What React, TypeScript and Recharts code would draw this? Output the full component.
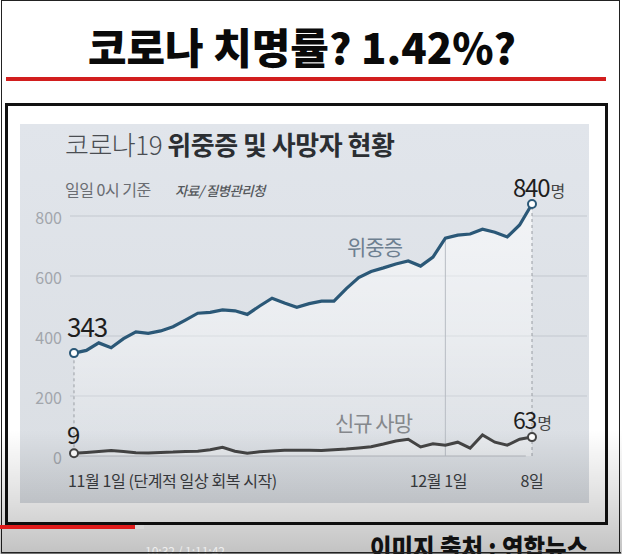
import React from 'react'
import { ComposedChart, Line, Area, XAxis, YAxis, CartesianGrid, ReferenceLine } from 'recharts'

// 11/1 ~ 12/8 daily values
const dates = [
  '11/1', '11/2', '11/3', '11/4', '11/5', '11/6', '11/7', '11/8', '11/9', '11/10',
  '11/11', '11/12', '11/13', '11/14', '11/15', '11/16', '11/17', '11/18', '11/19', '11/20',
  '11/21', '11/22', '11/23', '11/24', '11/25', '11/26', '11/27', '11/28', '11/29', '11/30',
  '12/1', '12/2', '12/3', '12/4', '12/5', '12/6', '12/7', '12/8',
]
const critical = [
  343, 352, 377, 361, 391, 414, 409, 417, 431, 453,
  476, 479, 487, 484, 472, 500, 526, 510, 496, 508,
  516, 516, 558, 595, 615, 627, 640, 650, 633, 663,
  726, 736, 740, 756, 746, 730, 770, 840,
]
const deaths = [
  9, 12, 15, 18, 15, 11, 10, 12, 13, 15,
  16, 21, 29, 16, 9, 14, 17, 19, 19, 19,
  18, 21, 23, 27, 31, 40, 50, 56, 30, 41,
  36, 46, 26, 70, 46, 36, 56, 63,
]
const xTicks = [0, 30, 37]
const xTickLabels = ['11월 1일 (단계적 일상 회복 시작)', '12월 1일', '8일']
const yTicks = [0, 200, 400, 600, 800]

const FONT = '"Noto Sans CJK KR", "Noto Sans", sans-serif'
const BLUE = '#2b5877'
const GRAY = '#454545'

const rows = dates.map((d, i) => ({ day: i, date: d, critical: critical[i], deaths: deaths[i] }))
const last = rows.length - 1

const XTick = (props: any) => {
  const { x, y, payload } = props
  const i = xTicks.indexOf(payload.value)
  const anchor = i === 0 ? 'start' : 'middle'
  const dx = i === 0 ? -6 : i === 1 ? -7 : 0
  return (
    <text x={x + dx} y={y + 29} textAnchor={anchor} fill="#3a3d41" fontSize={16} fontFamily={FONT} letterSpacing={-0.4}>
      {xTickLabels[i]}
    </text>
  )
}

const criticalDot = (props: any) => {
  const { cx, cy, index } = props
  if (index !== 0 && index !== last) return <g key={`c${index}`} />
  return (
    <g key={`c${index}`}>
      <circle cx={cx} cy={cy} r={4} fill="#fff" stroke={BLUE} strokeWidth={2} />
      {index === 0 ? (
        <text x={cx - 7} y={cy - 16} fontSize={26} fill="#1e1e1e" fontFamily={FONT} letterSpacing={-1}>
          {critical[0]}
        </text>
      ) : (
        <text x={cx - 19} y={cy - 7} fontSize={24} fill="#1e1e1e" fontFamily={FONT} letterSpacing={-1.2}>
          {critical[last]}
          <tspan fontSize={16} fill="#444" dx={1}>명</tspan>
        </text>
      )}
    </g>
  )
}

const deathDot = (props: any) => {
  const { cx, cy, index } = props
  if (index !== 0 && index !== last) return <g key={`d${index}`} />
  return (
    <g key={`d${index}`}>
      <circle cx={cx} cy={cy} r={4} fill="#fff" stroke={GRAY} strokeWidth={2} />
      {index === 0 ? (
        <text x={cx - 7} y={cy - 9} fontSize={24} fill="#1e1e1e" fontFamily={FONT}>
          {deaths[0]}
        </text>
      ) : (
        <text x={cx - 19} y={cy - 8} fontSize={23} fill="#1e1e1e" fontFamily={FONT} letterSpacing={-1.2}>
          {deaths[last]}
          <tspan fontSize={16} fill="#444" dx={1}>명</tspan>
        </text>
      )}
    </g>
  )
}

export default function App() {
  return (
    <div style={{ position: 'absolute', left: 0, top: 0, width: 622, height: 554, background: '#fff', overflow: 'hidden', fontFamily: FONT }}>
      {/* outer frame */}
      <div style={{ position: 'absolute', left: 1, top: 0, width: 619, height: 553, border: '1.5px solid #222', boxSizing: 'border-box' }} />
      {/* boxed chart frame */}
      <div style={{ position: 'absolute', left: 5, top: 103, width: 603, height: 422, border: '3px solid #111', boxSizing: 'border-box' }} />
      {/* chart panel */}
      <div style={{ position: 'absolute', left: 20, top: 124, width: 569, height: 379, background: 'linear-gradient(#e1e5eb, #dadee3)' }} />

      <div style={{ position: 'absolute', left: 0, top: 0 }}>
        <ComposedChart width={622} height={554} data={rows} margin={{ top: 186, right: 35, bottom: 68, left: 0 }}>
          <defs>
            <linearGradient id="critFill" x1="0" y1="0" x2="0" y2="1">
              <stop offset="0%" stopColor="#ffffff" stopOpacity={1} />
              <stop offset="55%" stopColor="#ffffff" stopOpacity={0.6} />
              <stop offset="100%" stopColor="#ffffff" stopOpacity={0} />
            </linearGradient>
          </defs>
          <CartesianGrid vertical={false} stroke="#c3c8cf" strokeWidth={1} horizontalValues={[200, 400, 600, 800]} />
          <XAxis
            dataKey="day"
            type="number"
            domain={[-0.323, 41.443]}
            ticks={xTicks}
            tick={<XTick />}
            axisLine={false}
            tickLine={false}
            tickSize={0}
            height={30}
          />
          <YAxis
            type="number"
            domain={[0, 900]}
            ticks={yTicks}
            width={70}
            axisLine={false}
            tickLine={false}
            tickSize={0}
            tickMargin={8}
            tick={{ fill: '#a2a6ac', fontSize: 16, fontFamily: FONT, dy: 2 }}
          />
          <Area dataKey="critical" type="linear" stroke="none" fill="url(#critFill)" isAnimationActive={false} />
          <Area dataKey="deaths" type="linear" stroke="none" fill="#ffffff" fillOpacity={0.35} isAnimationActive={false} />
          <ReferenceLine segment={[{ x: -0.323, y: 0 }, { x: 36.5, y: 0 }]} stroke="#b4b8be" strokeWidth={1} />
          <ReferenceLine segment={[{ x: 30, y: 0 }, { x: 30, y: critical[30] }]} stroke="#b7bcc3" strokeWidth={1} />
          <ReferenceLine segment={[{ x: 0, y: deaths[0] }, { x: 0, y: critical[0] }]} stroke="#9a9ea4" strokeDasharray="3 3" />
          <ReferenceLine segment={[{ x: 37, y: 0 }, { x: 37, y: critical[last] }]} stroke="#9a9ea4" strokeDasharray="3 3" />
          <Line dataKey="deaths" type="linear" stroke={GRAY} strokeWidth={3} dot={deathDot} activeDot={false} isAnimationActive={false} />
          <Line dataKey="critical" type="linear" stroke={BLUE} strokeWidth={3.2} dot={criticalDot} activeDot={false} isAnimationActive={false} />
        </ComposedChart>
      </div>

      <svg width={622} height={554} style={{ position: 'absolute', left: 0, top: 0, pointerEvents: 'none' }}>
        <text x={302} y={64} textAnchor="middle" fontSize={42} fontWeight={900} fill="#0a0a0a" fontFamily={FONT} textLength={428} lengthAdjust="spacingAndGlyphs">
          코로나 치명률? 1.42%?
        </text>
        <rect x={6} y={77} width={600} height={4} fill="#d21e1e" />

        <text x={65} y={155} fontSize={26} fill="#2b2e32" fontFamily={FONT} letterSpacing={-0.5}>
          <tspan fontWeight={300} fill="#4a4d52">코로나19 </tspan>
          <tspan fontWeight={700}>위중증 및 사망자 현황</tspan>
        </text>
        <text x={65} y={196} fontSize={16} fill="#6a6d72" fontFamily={FONT} letterSpacing={-0.5}>일일 0시 기준</text>
        <text x={175} y={196} fontSize={13.5} fontStyle="italic" fontWeight={500} fill="#55585c" fontFamily={FONT} letterSpacing={-0.6}>자료/ 질병관리청</text>

        <text x={347} y={255} fontSize={21} fill="#6d7f90" fontFamily={FONT} letterSpacing={-1}>위중증</text>
        <text x={335} y={431} fontSize={21} fill="#85888c" fontFamily={FONT} letterSpacing={-1}>신규 사망</text>
      </svg>

      {/* video player overlay darkening */}
      <div style={{ position: 'absolute', left: 0, top: 430, width: 622, height: 124, background: 'linear-gradient(rgba(0,0,0,0), rgba(0,0,0,0.12) 55%, rgba(0,0,0,0.24))', pointerEvents: 'none' }} />

      <svg width={622} height={554} style={{ position: 'absolute', left: 0, top: 0, pointerEvents: 'none' }}>
        <rect x={0} y={525} width={135} height={4} fill="#e01b1b" />
        <rect x={135} y={525} width={9} height={4} fill="#d8d8d8" />
        <text x={370} y={558} fontSize={26} fontWeight={900} fill="#111" fontFamily={FONT} textLength={218} lengthAdjust="spacingAndGlyphs">
          이미지 출처 : 연합뉴스
        </text>
        <text x={145} y={556} fontSize={12} fill="#eeeeee" fontFamily={FONT}>10:32 / 1:11:42</text>
        <rect x={1} y={552} width={620} height={1.5} fill="#222" />
      </svg>
    </div>
  )
}
